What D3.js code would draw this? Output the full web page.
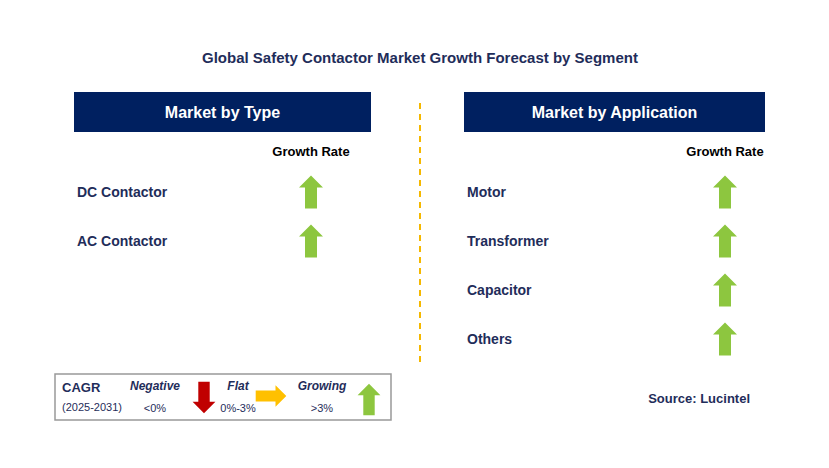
<!DOCTYPE html><html><head><meta charset="utf-8"><script src="https://cdn.jsdelivr.net/npm/d3@7"></script>
<style>body{margin:0;background:#fff}text{font-family:Arial,"Liberation Sans",sans-serif}</style></head><body>
<svg id="c" width="829" height="468"></svg>
<script>
const typeCategories=["DC Contactor","AC Contactor"];
const typeGrowth=["growing","growing"];
const appCategories=["Motor","Transformer","Capacitor","Others"];
const appGrowth=["growing","growing","growing","growing"];
const legendItems=[{label:"Negative",range:"<0%",kind:"negative"},{label:"Flat",range:"0%-3%",kind:"flat"},{label:"Growing",range:">3%",kind:"growing"}];
const svg=d3.select("#c");
const navy="#002060";
svg.append("text").attr("x",420).attr("y",63).attr("text-anchor","middle").attr("font-size",15).attr("font-weight","bold").attr("fill","#1f2d5a").text("Global Safety Contactor Market Growth Forecast by Segment");
function up(g,cx,cy,s=1){g.append("path").attr("d",`M${cx},${cy-16*s} L${cx+12*s},${cy-4*s} L${cx+6*s},${cy-4*s} L${cx+6*s},${cy+17*s} L${cx-6*s},${cy+17*s} L${cx-6*s},${cy-4*s} L${cx-12*s},${cy-4*s}Z`).attr("fill","#8dc63f");}
function down(g,cx,cy,s=1){g.append("path").attr("d",`M${cx},${cy+16*s} L${cx+12*s},${cy+4*s} L${cx+6*s},${cy+4*s} L${cx+6*s},${cy-17*s} L${cx-6*s},${cy-17*s} L${cx-6*s},${cy+4*s} L${cx-12*s},${cy+4*s}Z`).attr("fill","#c00000");}
function right(g,cx,cy,s=1){g.append("path").attr("d",`M${cx+17*s},${cy} L${cx+5*s},${cy-12*s} L${cx+5*s},${cy-6*s} L${cx-17*s},${cy-6*s} L${cx-17*s},${cy+6*s} L${cx+5*s},${cy+6*s} L${cx+5*s},${cy+12*s}Z`).attr("fill","#ffc000");}
function panel(x0,x1,title,cats,growth,arrowX){
  svg.append("rect").attr("x",x0).attr("y",92).attr("width",x1-x0).attr("height",40).attr("fill",navy);
  svg.append("text").attr("x",(x0+x1)/2).attr("y",118).attr("text-anchor","middle").attr("font-size",16).attr("font-weight","bold").attr("fill","#fff").text(title);
  svg.append("text").attr("x",arrowX).attr("y",156).attr("text-anchor","middle").attr("font-size",13).attr("font-weight","bold").attr("fill","#000").text("Growth Rate");
  const y=d3.scaleBand().domain(cats).range([167,167+49*cats.length]);
  cats.forEach((c,i)=>{const cy=y(c)+y.bandwidth()/2;
    svg.append("text").attr("x",x0+3).attr("y",cy+5).attr("font-size",14).attr("font-weight","bold").attr("fill","#1f2d5a").text(c);
    const g=svg.append("g"); if(growth[i]==="growing")up(g,arrowX,cy); else if(growth[i]==="negative")down(g,arrowX,cy); else right(g,arrowX,cy);});
}
panel(74,371,"Market by Type",typeCategories,typeGrowth,311);
panel(464,765,"Market by Application",appCategories,appGrowth,725);
svg.append("line").attr("x1",420).attr("x2",420).attr("y1",103).attr("y2",366).attr("stroke","#f5b800").attr("stroke-width",2).attr("stroke-dasharray","6,5");
svg.append("rect").attr("x",55).attr("y",374).attr("width",336).attr("height",46).attr("fill","#fff").attr("stroke","#999").attr("stroke-width",1.5);
svg.append("text").attr("x",62).attr("y",392).attr("font-size",13).attr("font-weight","bold").attr("fill","#1f2d5a").text("CAGR");
svg.append("text").attr("x",62).attr("y",411).attr("font-size",11).attr("fill","#1f2d5a").text("(2025-2031)");
const lx=[155,238,322],ax=[204,281,369];
legendItems.forEach((d,i)=>{
  svg.append("text").attr("x",lx[i]).attr("y",390).attr("text-anchor","middle").attr("font-size",12).attr("font-weight","bold").attr("font-style","italic").attr("fill","#1f2d5a").text(d.label);
  svg.append("text").attr("x",lx[i]).attr("y",412).attr("text-anchor","middle").attr("font-size",11).attr("fill","#1f2d5a").text(d.range);
  const g=svg.append("g"); if(d.kind==="negative")down(g,ax[i],398,0.95); else if(d.kind==="flat")right(g,ax[i]-10,396,0.9); else up(g,ax[i],399,0.95);
});
svg.append("text").attr("x",750).attr("y",403).attr("text-anchor","end").attr("font-size",13).attr("font-weight","bold").attr("fill","#1f2d5a").text("Source: Lucintel");
</script></body></html>
